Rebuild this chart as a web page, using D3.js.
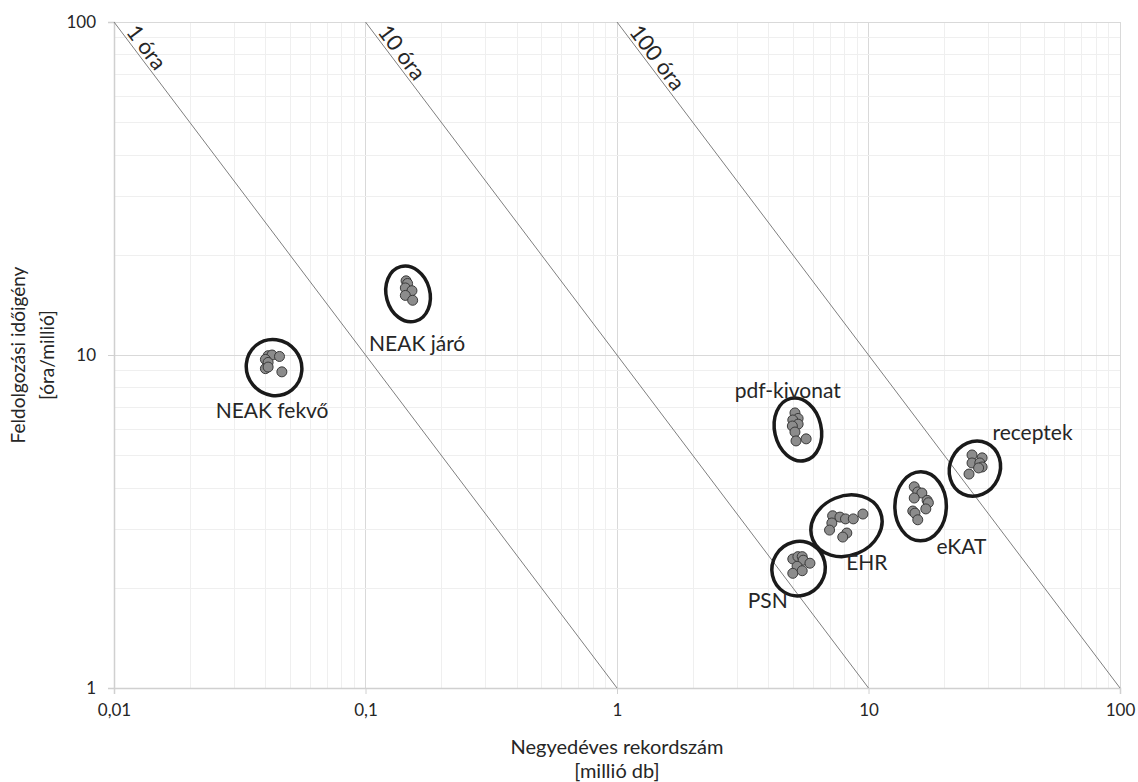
<!DOCTYPE html>
<html>
<head>
<meta charset="utf-8">
<script src="https://cdn.jsdelivr.net/npm/d3@7"></script>
<style>
  body { margin: 0; background: #fff; }
  text { font-family: Lato, "Open Sans", sans-serif; fill: #262626; }
</style>
</head>
<body>
<div id="chart"></div>
<script>
// axis ticks
var xTicks = [0.01, 0.1, 1, 10, 100]
var xTickLabels = ["0,01", "0,1", "1", "10", "100"]
var yTicks = [1, 10, 100]
var yTickLabels = ["1", "10", "100"]

// constant effort lines (hours = records * hours/record)
var hourLines = [1, 10, 100]
var hourLabels = ["1 óra", "10 óra", "100 óra"]

// clusters: [million records, hours/million]
var clusterNames = ["NEAK fekvő", "NEAK járó", "pdf-kivonat", "PSN", "EHR", "eKAT", "receptek"]
var neakFekvo = [[0.041, 9.95], [0.0425, 10.0], [0.0455, 9.9], [0.040, 9.7], [0.041, 9.5], [0.040, 9.1], [0.041, 9.2], [0.0465, 8.9]]
var neakJaro = [[0.145, 16.7], [0.147, 16.4], [0.144, 15.9], [0.153, 15.6], [0.144, 15.1], [0.154, 14.6]]
var pdfKivonat = [[5.1, 6.7], [5.25, 6.45], [5.0, 6.38], [5.25, 6.2], [4.98, 6.12], [5.1, 5.87], [5.15, 5.52], [5.65, 5.6]]
var psn = [[5.0, 2.44], [5.24, 2.48], [5.45, 2.48], [5.5, 2.42], [5.85, 2.37], [5.2, 2.32], [5.0, 2.21], [5.45, 2.25]]
var ehr = [[7.2, 3.29], [7.15, 3.13], [7.0, 2.98], [7.7, 3.26], [8.1, 3.22], [8.7, 3.22], [9.5, 3.33], [8.2, 2.92], [7.9, 2.84]]
var ekat = [[15.2, 4.02], [15.7, 3.88], [16.3, 3.85], [15.2, 3.72], [17.1, 3.66], [17.3, 3.6], [16.9, 3.45], [15.0, 3.4], [15.3, 3.35], [15.7, 3.2]]
var receptek = [[25.8, 5.01], [28.3, 4.91], [25.8, 4.74], [27.7, 4.74], [28.3, 4.61], [27.4, 4.58], [25.1, 4.39]]
var clusterPoints = [neakFekvo, neakJaro, pdfKivonat, psn, ehr, ekat, receptek]

// label placement relative to cluster centroid (px)
var labelOffsets = [[1, 47], [9, 53], [-9, -37], [-32, 36], [24, 38], [42, 43], [56, -32]]

var width = 1138
var height = 782
var plotLeft = 114, plotRight = 1120, plotTop = 22, plotBottom = 688

var svg = d3.select("#chart")
  .append("svg")
  .attr("width", width)
  .attr("height", height)

var x = d3.scaleLog().domain([0.01, 100]).range([plotLeft, plotRight])
var y = d3.scaleLog().domain([1, 100]).range([plotBottom, plotTop])

// grid
var grid = svg.append("g")
grid.selectAll(".gx")
  .data(x.ticks())
  .enter()
  .append("line")
  .attr("x1", function(d) { return Math.round(x(d)) + 0.5 })
  .attr("x2", function(d) { return Math.round(x(d)) + 0.5 })
  .attr("y1", plotTop)
  .attr("y2", plotBottom)
  .attr("stroke", function(d) { return xTicks.indexOf(d) >= 0 ? "#d9d9d9" : "#efefef" })
grid.selectAll(".gy")
  .data(y.ticks())
  .enter()
  .append("line")
  .attr("x1", plotLeft)
  .attr("x2", plotRight)
  .attr("y1", function(d) { return Math.round(y(d)) + 0.5 })
  .attr("y2", function(d) { return Math.round(y(d)) + 0.5 })
  .attr("stroke", function(d) { return yTicks.indexOf(d) >= 0 ? "#d9d9d9" : "#efefef" })

// axes
var xAxis = d3.axisBottom(x).tickValues(xTicks).tickSize(6).tickPadding(10)
  .tickFormat(function(d, i) { return xTickLabels[i] })
svg.append("g")
  .attr("transform", "translate(0," + plotBottom + ")")
  .call(xAxis)
var yAxis = d3.axisLeft(y).tickValues(yTicks).tickSize(6).tickPadding(12)
  .tickFormat(function(d, i) { return yTickLabels[i] })
svg.append("g")
  .attr("transform", "translate(" + plotLeft + ",0)")
  .call(yAxis)
svg.selectAll(".domain").attr("stroke", "#d0d0d0").attr("stroke-width", 1.5)
svg.selectAll(".tick line").attr("stroke", "#d0d0d0")
svg.selectAll(".tick text")
  .attr("font-family", "Lato, sans-serif")
  .attr("font-size", "17px")
  .attr("fill", "#262626")

// hour lines
var angle = Math.atan2(y(1) - y(10), x(10) - x(1)) * 180 / Math.PI
var hl = svg.append("g")
hl.selectAll("line")
  .data(hourLines)
  .enter()
  .append("line")
  .attr("x1", function(d) { return x(d / 100) })
  .attr("y1", y(100))
  .attr("x2", function(d) { return x(d) })
  .attr("y2", y(1))
  .attr("stroke", "#7f7f7f")
  .attr("stroke-width", 1)
hl.selectAll("text")
  .data(hourLines)
  .enter()
  .append("text")
  .text(function(d, i) { return hourLabels[i] })
  .attr("transform", function(d) {
    return "translate(" + x(d / 100) + "," + y(100) + ") rotate(" + angle + ")"
  })
  .attr("x", 15)
  .attr("y", -3)
  .attr("font-size", "22px")

// clusters
clusterPoints.forEach(function(pts, ci) {
  var px = pts.map(function(d) { return [x(d[0]), y(d[1])] })
  var mx = d3.mean(px, function(p) { return p[0] })
  var my = d3.mean(px, function(p) { return p[1] })
  var sxx = d3.mean(px, function(p) { return (p[0] - mx) * (p[0] - mx) })
  var syy = d3.mean(px, function(p) { return (p[1] - my) * (p[1] - my) })
  var sxy = d3.mean(px, function(p) { return (p[0] - mx) * (p[1] - my) })
  var a = 0.5 * Math.atan2(2 * sxy, sxx - syy)
  var ca = Math.cos(a), sa = Math.sin(a)
  var us = px.map(function(p) { return (p[0] - mx) * ca + (p[1] - my) * sa })
  var vs = px.map(function(p) { return -(p[0] - mx) * sa + (p[1] - my) * ca })
  var uMin = d3.min(us), uMax = d3.max(us), vMin = d3.min(vs), vMax = d3.max(vs)
  var uc = (uMin + uMax) / 2, vc = (vMin + vMax) / 2
  var cx = mx + uc * ca - vc * sa
  var cy = my + uc * sa + vc * ca
  var pad = 18
  var g = svg.append("g")
  g.append("ellipse")
    .attr("transform", "translate(" + cx + "," + (cy + 3) + ") rotate(" + (a * 180 / Math.PI) + ")")
    .attr("rx", (uMax - uMin) / 2 + pad)
    .attr("ry", (vMax - vMin) / 2 + pad)
    .attr("fill", "none")
    .attr("stroke", "#1a1a1a")
    .attr("stroke-width", 3.5)
  g.selectAll("circle")
    .data(pts)
    .enter()
    .append("circle")
    .attr("cx", function(d) { return x(d[0]) })
    .attr("cy", function(d) { return y(d[1]) })
    .attr("r", 5)
    .attr("fill", "#8c8c8c")
    .attr("stroke", "#3a3a3a")
    .attr("stroke-width", 1)
  g.append("text")
    .text(clusterNames[ci])
    .attr("x", mx + labelOffsets[ci][0])
    .attr("y", my + labelOffsets[ci][1])
    .attr("text-anchor", "middle")
    .attr("dominant-baseline", "central")
    .attr("font-size", "21px")
})

// axis titles
svg.append("text")
  .attr("x", (plotLeft + plotRight) / 2)
  .attr("y", 754)
  .attr("text-anchor", "middle")
  .attr("font-size", "20px")
  .text("Negyedéves rekordszám")
svg.append("text")
  .attr("x", (plotLeft + plotRight) / 2)
  .attr("y", 778)
  .attr("text-anchor", "middle")
  .attr("font-size", "20px")
  .text("[millió db]")
svg.append("text")
  .attr("transform", "translate(25,355) rotate(-90)")
  .attr("text-anchor", "middle")
  .attr("font-size", "19px")
  .text("Feldolgozási időigény")
svg.append("text")
  .attr("transform", "translate(54,355) rotate(-90)")
  .attr("text-anchor", "middle")
  .attr("font-size", "19px")
  .text("[óra/millió]")
</script>
</body>
</html>
